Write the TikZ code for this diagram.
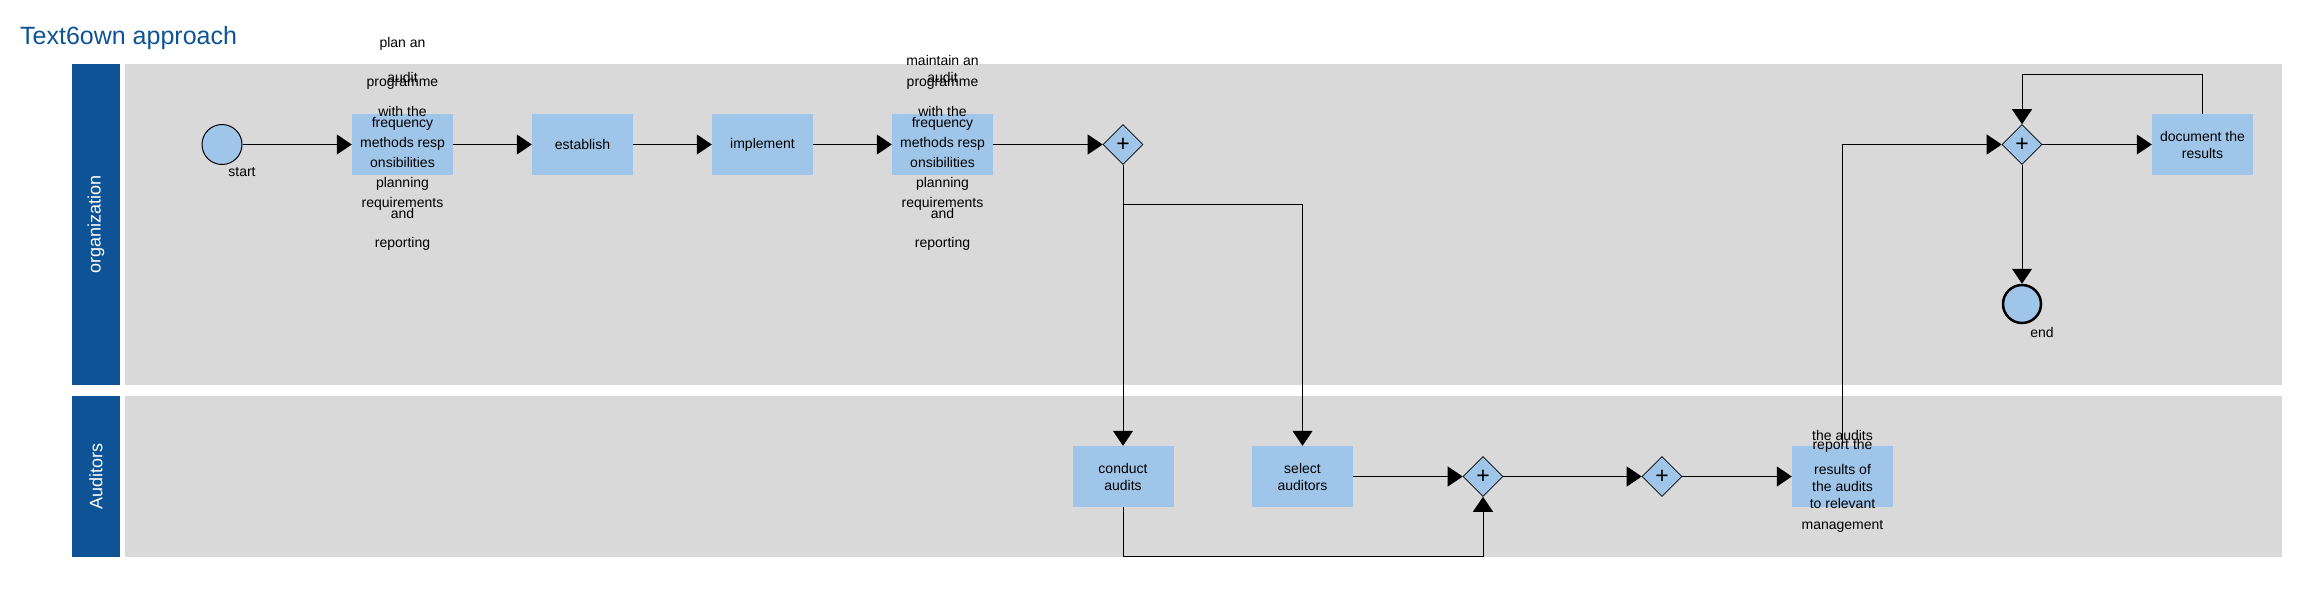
\documentclass[tikz,border=0pt]{standalone}
\usepackage{fontspec}
\setmainfont{Liberation Sans}
\usetikzlibrary{arrows.meta,shapes.geometric,calc}
\definecolor{hdr}{RGB}{14,83,150}
\definecolor{lanebg}{RGB}{217,217,217}
\definecolor{taskc}{RGB}{159,197,232}
\begin{document}
\begin{tikzpicture}[x=1pt,y=-1pt,
  txt/.style={font=\fontsize{14pt}{17pt}\selectfont, inner sep=0pt, align=center},
  taskbox/.style={txt, fill=taskc, minimum width=101pt, minimum height=61pt},
  gw/.style={diamond, draw, fill=taskc, line width=0.6pt, minimum width=40pt, minimum height=40pt, inner sep=0pt, font=\fontsize{23pt}{23pt}\selectfont},
  event/.style={circle, draw, fill=taskc, inner sep=0pt},
  flow/.style={draw, line width=1pt, -{Triangle[length=15pt,width=20pt]}},
  lanelabel/.style={rotate=90, text=white, font=\fontsize{18pt}{18pt}\selectfont, inner sep=0pt}
]
\useasboundingbox (0,0) rectangle (2299,598);
% title
\node[anchor=base west, text=hdr, font=\fontsize{25pt}{25pt}\selectfont, inner sep=0pt] (title) at (20,44) {Text6own approach};
% lanes
\fill[hdr] (72,64) rectangle (120,385);
\fill[lanebg] (125,64) rectangle (2282,385);
\fill[hdr] (72,396) rectangle (120,557);
\fill[lanebg] (125,396) rectangle (2282,557);
\node[lanelabel] (l1) at (96,224.5) {organization};
\node[lanelabel] (l2) at (96,476.5) {Auditors};
% events
\node[event, minimum size=40pt, line width=1pt] (start) at (222,144.5) {};
\node[txt] (startlbl) at (242,172) {start};
\node[event, minimum size=38pt, line width=2.5pt] (endev) at (2022,304) {};
\node[txt] (endlbl) at (2042,332) {end};
% tasks
\node[taskbox] (t1) at (402.5,144.5) {};
\node[taskbox] (est) at (582.5,144.5) {establish};
\node[taskbox] (imp) at (762.5,144.5) {implement};
\node[taskbox] (t4) at (942.5,144.5) {};
\node[taskbox] (conduct) at (1123,476.5) {conduct\\audits};
\node[taskbox] (select) at (1302.5,476.5) {select\\auditors};
\node[taskbox] (report) at (1842.5,476.5) {};
\node[taskbox] (doc) at (2202.5,144.5) {document the\\results};
% task 1 texts
\foreach \t/\y [count=\i] in {plan an/44, audit/77, programme/84, with the/111, frequency/124, methods resp/144, onsibilities/162, planning/184, requirements/204, and/213, reporting/244}
  \node[txt] (ta\i) at (402.5,\y) {\t};
% task 4 texts
\foreach \t/\y [count=\i] in {maintain an/60, audit/77, programme/84, with the/111, frequency/124, methods resp/144, onsibilities/162, planning/184, requirements/204, and/213, reporting/244}
  \node[txt] (tb\i) at (942.5,\y) {\t};
% report texts
\foreach \t/\y [count=\i] in {the audits/435, report the/446, results of/469, the audits/486, to relevant/503, management/526}
  \node[txt] (tr\i) at (1842.5,\y) {\t};
% gateways
\node[gw] (g1) at (1123,144.5) {+};
\node[gw] (g2) at (1483,476.5) {+};
\node[gw] (g3) at (1662,476.5) {+};
\node[gw] (g4) at (2022,144.5) {+};
% bend points
\coordinate (b1) at (1123,204);
\coordinate (b2) at (1123,556);
\coordinate (b3) at (2202.5,74);
% flows
\draw[flow] (start) -- (t1);
\draw[flow] (t1) -- (est);
\draw[flow] (est) -- (imp);
\draw[flow] (imp) -- (t4);
\draw[flow] (t4) -- (g1);
\draw[flow] (g1) -- (conduct);
\draw[flow] (g1.south) -- (b1) -| (select.north);
\draw[flow] (select) -- (g2);
\draw[flow] (conduct.south) -- (b2) -| (g2.south);
\draw[flow] (g2) -- (g3);
\draw[flow] (g3) -- (report);
\draw[flow] (report.north) |- (g4.west);
\draw[flow] (g4) -- (doc);
\draw[flow] (doc.north) -- (b3) -| (g4.north);
\draw[flow] (g4) -- (endev);
\end{tikzpicture}
\end{document}
